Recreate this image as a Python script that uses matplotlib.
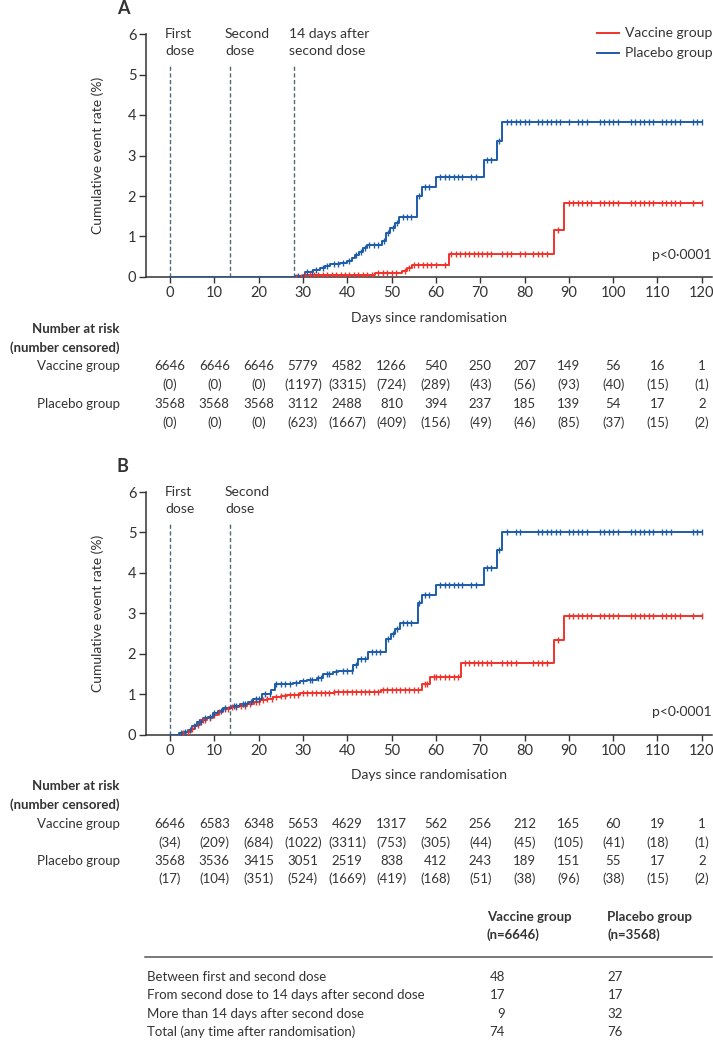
import numpy as np
import matplotlib
matplotlib.use('Agg')
import matplotlib.pyplot as plt
from matplotlib.lines import Line2D
from matplotlib.transforms import blended_transform_factory

plt.rcParams['font.family'] = ['Lato', 'DejaVu Sans']
plt.rcParams['lines.scale_dashes'] = False

# ---------------- data ----------------
tick_days = [0, 10, 20, 30, 40, 50, 60, 70, 80, 90, 100, 110, 120]

# panel A: from 14 days after second dose
a_plac_days = [0, 28.2, 30.5, 32.3, 33.9, 35, 36.1, 38.4, 39.9, 41, 41.8, 42.7, 43.6, 44.5,
               47.8, 48.8, 49.7, 50.8, 51.7, 55.8, 56.8, 60, 70.8, 73.7, 74.9, 120]
a_plac_rate = [0, 0.02, 0.13, 0.17, 0.23, 0.27, 0.31, 0.35, 0.39, 0.46, 0.54, 0.62, 0.71, 0.79,
               0.88, 1.08, 1.2, 1.33, 1.48, 2.01, 2.22, 2.47, 2.9, 3.37, 3.82, 3.82]
a_vacc_days = [0, 27.8, 30, 46.3, 52.3, 53.5, 54.7, 63, 86.7, 88.8, 120]
a_vacc_rate = [0, 0.01, 0.04, 0.1, 0.15, 0.23, 0.3, 0.56, 1.16, 1.83, 1.83]

plateau_plac = [76, 77, 78, 79, 80, 81, 83, 84, 85, 86, 87, 88, 90, 92, 93, 94, 97, 98, 99, 100,
                101, 104, 105, 106, 107, 108, 109, 111, 112, 113, 114, 115, 118, 119, 120]
plateau_vacc = [90, 91, 92, 93, 94, 95, 97, 98, 99, 100, 101, 104, 105, 106, 107, 108, 109,
                111, 112, 113, 114, 115, 118, 120]

a_plac_cens = [29, 31, 32, 33, 34.5, 35.5, 37, 38, 39, 40.5, 42, 43, 44, 45, 46, 47, 48.3, 49.3,
               50.3, 51.3, 52.5, 53.5, 54.5, 56.3, 57.5, 58.5, 61, 62, 63, 64, 65, 66, 68, 69,
               71.5, 72.5, 74.2] + plateau_plac
a_vacc_cens = [28.5, 29.5, 30.5, 31.5, 32.5, 33.5, 34.5, 35.5, 36.5, 37.5, 38.5, 39.5, 40.5,
               41.5, 42.5, 43.5, 44.5, 45.5, 47, 48, 49, 50, 51, 53, 54, 55, 56, 57, 58, 59, 60,
               62, 63.5, 64.5, 65.5, 66.5, 67.5, 68.5, 69.5, 70.5, 71.5, 72.5, 75, 76, 77, 79,
               80, 82, 83, 84, 85, 87.5] + plateau_vacc

# panel B: from randomisation
b_plac_days = [0, 2, 3, 4, 5, 6, 7.5, 8.5, 9.8, 10.9, 12, 13.9, 15.8, 17.7, 18.8, 20.7, 22.9,
               23.7, 27.8, 29.3, 30.9, 33.1, 34.6, 36.9, 38, 41.4, 42.5, 44.8, 48.8, 49.8, 50.8,
               51.8, 55.9, 56.8, 60, 70.8, 73.7, 74.9, 120]
b_plac_rate = [0, 0.03, 0.06, 0.1, 0.2, 0.3, 0.4, 0.44, 0.52, 0.59, 0.66, 0.71, 0.75, 0.81,
               0.89, 1.0, 1.1, 1.25, 1.27, 1.32, 1.36, 1.41, 1.49, 1.54, 1.58, 1.72, 1.86, 2.04,
               2.37, 2.48, 2.6, 2.75, 3.26, 3.46, 3.7, 4.12, 4.56, 5.01, 5.01]
b_vacc_days = [0, 2.2, 3.7, 4.7, 5.7, 6.8, 8.3, 9.8, 10.9, 11.9, 13.5, 15.5, 17.3, 19, 20.3, 22,
               23.3, 25, 26.3, 29.3, 31.6, 37, 47.6, 56.8, 58.7, 65.7, 86.7, 88.8, 120]
b_vacc_rate = [0, 0.04, 0.07, 0.14, 0.23, 0.36, 0.42, 0.48, 0.56, 0.63, 0.67, 0.71, 0.75, 0.8,
               0.85, 0.89, 0.93, 0.96, 0.98, 1.02, 1.03, 1.04, 1.1, 1.25, 1.43, 1.76, 2.35, 2.93,
               2.93]

b_plac_cens = [2.5, 3.5, 4.5, 5.5, 6.5, 7, 8, 9, 10, 11.5, 12.5, 14.5, 15, 16.5, 17, 18.3, 19.5,
               20, 21.5, 22.5, 24, 25, 26, 27, 28.5, 30, 31.5, 32, 33.5, 34, 35.5, 36, 37.5, 39,
               40, 41, 42, 43, 44, 45.5, 46.5, 47.5, 49.3, 50.3, 51.3, 52.5, 53.5, 54.5, 56.3,
               57.5, 58.5, 61, 62, 63, 64, 65, 66, 68, 69, 71.5, 72.5, 74.2, 76, 78, 79, 83, 84,
               85, 86, 87, 88, 90, 91, 92, 93, 94, 97, 98, 99, 100, 101, 104, 105, 106, 107, 108,
               109, 111, 112, 113, 118, 119, 120]
b_vacc_cens = [3, 4, 5, 6.3, 7.5, 8, 9, 10, 11, 12.5, 13, 14, 15, 16, 17, 18, 19.5, 20, 21, 22,
               23, 24, 25, 26, 27, 28, 29, 30, 31, 32, 33, 34, 35, 36, 37, 38, 39, 40, 41, 42, 43,
               44, 45, 46, 47, 48, 49, 50, 51, 52, 53, 54, 55, 56, 57.5, 58, 59.5, 60, 61, 62, 63,
               64, 65, 66.5, 67.5, 68.5, 69.5, 70.5, 71.5, 72.5, 75, 76, 77, 78, 82, 83, 84, 85,
               87.5] + plateau_vacc

a_vacc_risk = ['6646', '6646', '6646', '5779', '4582', '1266', '540', '250', '207', '149', '56', '16', '1']
a_vacc_cnsr = ['(0)', '(0)', '(0)', '(1197)', '(3315)', '(724)', '(289)', '(43)', '(56)', '(93)', '(40)', '(15)', '(1)']
a_plac_risk = ['3568', '3568', '3568', '3112', '2488', '810', '394', '237', '185', '139', '54', '17', '2']
a_plac_cnsr = ['(0)', '(0)', '(0)', '(623)', '(1667)', '(409)', '(156)', '(49)', '(46)', '(85)', '(37)', '(15)', '(2)']

b_vacc_risk = ['6646', '6583', '6348', '5653', '4629', '1317', '562', '256', '212', '165', '60', '19', '1']
b_vacc_cnsr = ['(34)', '(209)', '(684)', '(1022)', '(3311)', '(753)', '(305)', '(44)', '(45)', '(105)', '(41)', '(18)', '(1)']
b_plac_risk = ['3568', '3536', '3415', '3051', '2519', '838', '412', '243', '189', '151', '55', '17', '2']
b_plac_cnsr = ['(17)', '(104)', '(351)', '(524)', '(1669)', '(419)', '(168)', '(51)', '(38)', '(96)', '(38)', '(15)', '(2)']

table_rows = ['Between first and second dose',
              'From second dose to 14 days after second dose',
              'More than 14 days after second dose',
              'Total (any time after randomisation)']
table_vacc = [48, 17, 9, 74]
table_plac = [27, 17, 32, 76]

# ---------------- style ----------------
RED = '#f0332b'
BLUE = '#1d5ca8'
DASH = '#4d6b78'
INK = '#333333'
FS = 9.5

W, H = 713, 1041
fig = plt.figure(figsize=(W / 100, H / 100), dpi=100)


def fx(px):
    return px / W


def fy(py):
    return 1 - py / H


def value_at(days, rates, t):
    i = np.searchsorted(days, t, side='right') - 1
    return np.asarray(rates)[i]


def panel(top, bottom, letter, lines, labels, curves, rows, y_rows, y_days):
    ax = fig.add_axes([fx(146), fy(bottom), fx(712) - fx(146), fy(top) - fy(bottom)])
    ax.set_xlim(-5.4, 122.3)
    ax.set_ylim(0, 6)
    for s in ['top', 'right']:
        ax.spines[s].set_visible(False)
    for s in ['left', 'bottom']:
        ax.spines[s].set_color(INK)
        ax.spines[s].set_linewidth(1.1)
    ax.set_xticks(tick_days)
    ax.set_yticks(range(7))
    ax.tick_params(axis='x', length=4.5, width=1.0, pad=2, labelsize=FS + 1, colors=INK)
    ax.tick_params(axis='y', length=5, width=1.0, pad=2, labelsize=FS + 1, colors=INK)
    ax.set_ylabel('Cumulative event rate (%)', fontsize=FS + 0.5, color=INK, labelpad=17)

    for d, lab in zip(lines, labels):
        ax.vlines(d, 0, 5.22, colors=DASH, linestyles=(0, (3, 1.8)), lw=1.0)
        ax.text(d - 1.1, 6.14, lab, ha='left', va='top', fontsize=FS + 0.5, color=INK,
                linespacing=1.5)

    for days, rates, cens, col in curves:
        ax.step(days, rates, where='post', color=col, lw=1.4, zorder=3)
        cy = [value_at(days, rates, c) for c in cens]
        ax.plot(cens, cy, ls='none', marker='|', ms=4, mew=1.0, color=col, zorder=4)

    ax.text(122.3, 0.55, 'p<0·0001', ha='right', va='center', fontsize=FS + 0.5, color=INK)
    fig.text(fx(117), fy(top - 26), letter, ha='left', va='center', fontsize=13,
             fontweight='bold', color=INK)

    fig.text(fx(429), fy(y_days), 'Days since randomisation', ha='center', va='center',
             fontsize=FS + 0.5, color=INK)
    fig.text(fx(120), fy(y_days + 11), 'Number at risk', ha='right', va='center',
             fontsize=FS, fontweight='bold', color=INK)
    fig.text(fx(120), fy(y_days + 30), '(number censored)', ha='right', va='center',
             fontsize=FS, fontweight='bold', color=INK)

    tr = blended_transform_factory(ax.transData, fig.transFigure)
    names = ['Vaccine group', None, 'Placebo group', None]
    for name, vals, py in zip(names, rows, y_rows):
        if name:
            fig.text(fx(120), fy(py), name, ha='right', va='center', fontsize=FS, color=INK)
        for d, v in zip(tick_days, vals):
            ax.text(d, fy(py), v, transform=tr, ha='center', va='center', fontsize=FS,
                    color=INK, clip_on=False)
    return ax


axA = panel(34, 277, 'A', [0, 13.5, 28],
            ['First\ndose', 'Second\ndose', '14 days after\nsecond dose'],
            [(a_vacc_days, a_vacc_rate, a_vacc_cens, RED),
             (a_plac_days, a_plac_rate, a_plac_cens, BLUE)],
            [a_vacc_risk, a_vacc_cnsr, a_plac_risk, a_plac_cnsr],
            [366, 385, 404, 423], 318)

axB = panel(492, 734.5, 'B', [0, 13.5],
            ['First\ndose', 'Second\ndose'],
            [(b_vacc_days, b_vacc_rate, b_vacc_cens, RED),
             (b_plac_days, b_plac_rate, b_plac_cens, BLUE)],
            [b_vacc_risk, b_vacc_cnsr, b_plac_risk, b_plac_cnsr],
            [824, 843, 861, 879], 775)

# legend
for py, col, lab in [(33, RED, 'Vaccine group'), (53, BLUE, 'Placebo group')]:
    fig.add_artist(Line2D([fx(597), fx(619)], [fy(py), fy(py)], color=col, lw=1.4))
    fig.text(fx(625), fy(py), lab, ha='left', va='center', fontsize=FS + 0.5, color=INK)

# events table
fig.text(fx(487), fy(911), 'Vaccine group\n(n=6646)', ha='left', va='top', fontsize=FS,
         fontweight='bold', color=INK, linespacing=1.5)
fig.text(fx(607), fy(911), 'Placebo group\n(n=3568)', ha='left', va='top', fontsize=FS,
         fontweight='bold', color=INK, linespacing=1.5)
fig.add_artist(Line2D([fx(145), fx(712)], [fy(957), fy(957)], color='#555555', lw=1.1))
for i, (lab, v, p) in enumerate(zip(table_rows, table_vacc, table_plac)):
    py = 977 + i * 18.3
    fig.text(fx(147), fy(py), lab, ha='left', va='center', fontsize=FS, color=INK)
    fig.text(fx(505), fy(py), str(v), ha='right', va='center', fontsize=FS, color=INK)
    fig.text(fx(623), fy(py), str(p), ha='right', va='center', fontsize=FS, color=INK)

fig.savefig('out.png', dpi=100)
